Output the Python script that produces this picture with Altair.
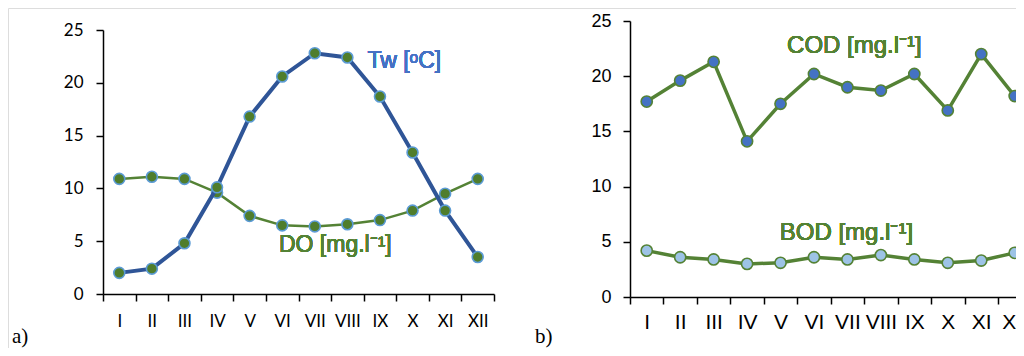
import altair as alt
import pandas as pd

months = ["I", "II", "III", "IV", "V", "VI", "VII", "VIII", "IX", "X", "XI", "XII"]
tw = [2.0, 2.4, 4.8, 10.1, 16.8, 20.6, 22.8, 22.4, 18.7, 13.4, 7.9, 3.5]
do = [10.9, 11.1, 10.9, 9.6, 7.4, 6.5, 6.4, 6.6, 7.0, 7.9, 9.5, 10.9]
cod = [17.7, 19.6, 21.3, 14.1, 17.5, 20.2, 19.0, 18.7, 20.2, 16.9, 22.0, 18.2]
bod = [4.2, 3.6, 3.4, 3.0, 3.1, 3.6, 3.4, 3.8, 3.4, 3.1, 3.3, 4.0]
y_ticks = [0, 5, 10, 15, 20, 25]

df_a = pd.DataFrame({"month": months, "Tw": tw, "DO": do})
df_b = pd.DataFrame({"month": months, "COD": cod, "BOD": bod})

W, H = 1008, 340

GREEN = "#548235"
DGREEN = "#4F7D2C"
BLUE = "#2F5597"
LBLUE = "#5B9BD5"
TXT_BLUE = "#4472C4"

def x_enc(xrange, off, font, size, pad):
    return alt.X(
        "month:N", sort=months, title=None,
        scale=alt.Scale(paddingInner=0, paddingOuter=0, range=xrange),
        axis=alt.Axis(orient="bottom", offset=off, labelAngle=0, tickBand="extent",
                      labelFont=font, labelFontSize=size, labelColor="black", labelPadding=pad,
                      domainColor="black", domainWidth=1.5, tickColor="black", tickWidth=1.5,
                      tickSize=7, grid=False),
    )

def y_enc(field, yrange, off, font, size, pad):
    return alt.Y(
        f"{field}:Q", title=None,
        scale=alt.Scale(domain=[0, 25], range=yrange, nice=False, zero=True),
        axis=alt.Axis(orient="left", offset=off, values=y_ticks, labelFont=font,
                      labelFontSize=size, labelColor="black", labelPadding=pad,
                      domainColor="black", domainWidth=1.5, tickColor="black", tickWidth=1.5,
                      tickSize=7, grid=False),
    )

# ---------------- panel a ----------------
XA = dict(xrange=[95, 486], off=286 - H, font="Lato", size=17, pad=12)
ya = lambda f: y_enc(f, [286, 22], -95, "Lato", 17, 13)
base_a = alt.Chart(df_a).encode(x=x_enc(**XA))

do_line = base_a.mark_line(color=GREEN, strokeWidth=2.5).encode(y=ya("DO"))
do_pts = base_a.mark_point(filled=True, shape="circle", size=120, fill=DGREEN, stroke=LBLUE,
                           strokeWidth=1.6, opacity=1).encode(y=ya("DO"))
tw_line = base_a.mark_line(color=BLUE, strokeWidth=4).encode(y=ya("Tw"))
tw_pts = base_a.mark_point(filled=True, shape="circle", size=120, fill=DGREEN, stroke=LBLUE,
                           strokeWidth=1.6, opacity=1).encode(y=ya("Tw"))

lab_tw = alt.Chart(df_a).mark_text(text="Tw [ᵒC]", font="Liberation Sans", fontSize=23,
                                   fontWeight="normal", color=TXT_BLUE, align="left",
                                   baseline="alphabetic", dx=20
                                   ).encode(x=alt.datum("VIII"), y=alt.datum(21.4))
lab_do = alt.Chart(df_a).mark_text(text="DO [mg.l⁻¹]", font="Liberation Sans", fontSize=23,
                                   fontWeight="normal", color=GREEN, align="center",
                                   baseline="alphabetic", dx=-12
                                   ).encode(x=alt.datum("VIII"), y=alt.datum(4.0))

panel_a = alt.layer(do_line, do_pts, tw_line, tw_pts, lab_tw, lab_do)

# ---------------- panel b ----------------
XB = dict(xrange=[622, 1023.4], off=289 - H, font="Liberation Sans", size=21, pad=7)
yb = lambda f: y_enc(f, [289, 13], -622, "Liberation Sans", 18, 12)
base_b = alt.Chart(df_b).encode(x=x_enc(**XB))

cod_line = base_b.mark_line(color=GREEN, strokeWidth=3.5).encode(y=yb("COD"))
cod_pts = base_b.mark_point(filled=True, shape="circle", size=125, fill=TXT_BLUE, stroke=GREEN,
                            strokeWidth=1.6, opacity=1).encode(y=yb("COD"))
bod_line = base_b.mark_line(color=GREEN, strokeWidth=3.5).encode(y=yb("BOD"))
bod_pts = base_b.mark_point(filled=True, shape="circle", size=125, fill="#9DC3E6", stroke=GREEN,
                            strokeWidth=1.6, opacity=1).encode(y=yb("BOD"))

lab_cod = alt.Chart(df_b).mark_text(text="COD [mg.l⁻¹]", font="Liberation Sans", fontSize=24,
                                    fontWeight="normal", color=GREEN, align="center",
                                    baseline="alphabetic", dx=7
                                    ).encode(x=alt.datum("VII"), y=alt.datum(22.07))
lab_bod = alt.Chart(df_b).mark_text(text="BOD [mg.l⁻¹]", font="Liberation Sans", fontSize=24,
                                    fontWeight="normal", color=GREEN, align="center",
                                    baseline="alphabetic", dx=-1
                                    ).encode(x=alt.datum("VII"), y=alt.datum(5.16))

panel_b = alt.layer(cod_line, cod_pts, bod_line, bod_pts, lab_cod, lab_bod)

# ---------------- panel captions ----------------
captions = pd.DataFrame({"cap": ["a)", "b)"]})
cap_a = alt.Chart(captions).transform_filter("datum.cap == 'a)'").mark_text(
    font="Liberation Serif", fontSize=21, color="black", align="left", baseline="alphabetic"
).encode(text="cap:N", x=alt.value(4), y=alt.value(335))
cap_b = alt.Chart(captions).transform_filter("datum.cap == 'b)'").mark_text(
    font="Liberation Serif", fontSize=21, color="black", align="left", baseline="alphabetic"
).encode(text="cap:N", x=alt.value(527), y=alt.value(335))

chart = alt.layer(panel_a, panel_b, cap_a, cap_b).resolve_scale(
    x="independent", y="independent"
).resolve_axis(x="independent", y="independent").properties(
    width=W, height=H, padding=0, autosize=alt.AutoSizeParams(type="none"),
).configure_view(stroke="transparent", strokeWidth=0).configure(background="white")

chart.save("out.html", embed_options={"renderer": "svg", "actions": False})
